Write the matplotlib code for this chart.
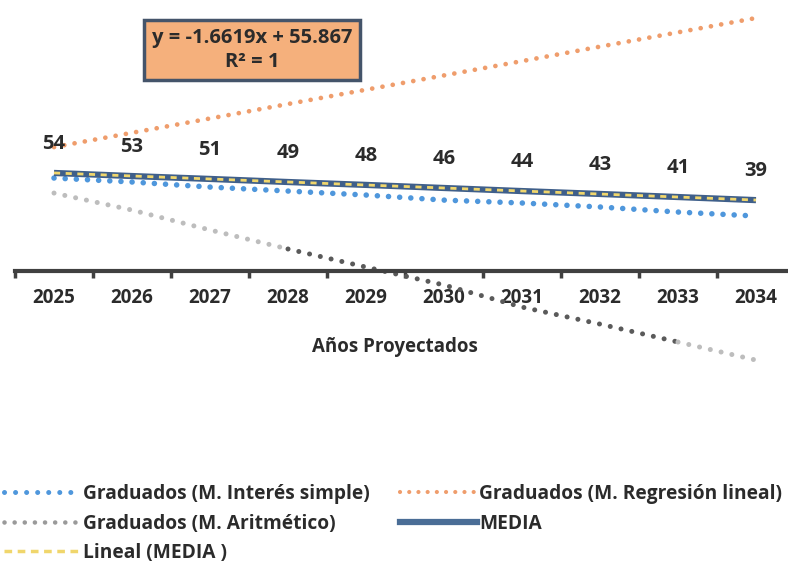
import numpy as np
import matplotlib.pyplot as plt
from matplotlib.lines import Line2D

years = ['2025', '2026', '2027', '2028', '2029', '2030', '2031', '2032', '2033', '2034']
interes_simple = [51.4, 49.2, 46.4, 44.2, 42.0, 39.2, 37.6, 35.4, 32.6, 30.4]
regresion = [68.5, 76.4, 84.3, 92.3, 100.2, 108.1, 116.0, 124.0, 131.9, 139.8]
aritmetico = [43.1, 33.7, 22.7, 12.2, 2.2, -7.7, -19.9, -29.3, -39.2, -49.2]
media = [54.2, 52.5, 50.9, 49.2, 47.6, 45.9, 44.2, 42.6, 40.9, 39.2]
media_labels = ['54', '53', '51', '49', '48', '46', '44', '43', '41', '39']

fam = ['Open Sans', 'DejaVu Sans']
plt.rcParams['font.family'] = fam
plt.rcParams['font.weight'] = 'bold'
txt = '#2b2b2b'

c_blue = '#4f97dc'
c_orange = '#ef9d6c'
c_light = '#bdbdbd'
c_dark = '#5a5a5a'
c_media = '#3f5f8a'
c_trend = '#f0d66c'

fig = plt.figure(figsize=(7.88, 5.66), dpi=100)
ax = fig.add_axes([15 / 788, 1 - 365 / 566, 780 / 788, 360 / 566])

x = np.arange(len(years))
dots = (0, (0.01, 2.2))

ax.plot(x, regresion, color=c_orange, lw=3.4, ls=dots, dash_capstyle='round', clip_on=False)
ax.plot(x, interes_simple, color=c_blue, lw=4.0, ls=(0, (0.01, 2.0)), dash_capstyle='round', clip_on=False)
# the arithmetic series mixes light and dark dots in the scan
ax.plot(x[:4], aritmetico[:4], color=c_light, lw=3.6, ls=dots, dash_capstyle='round', clip_on=False)
ax.plot(x[3:9], aritmetico[3:9], color=c_dark, lw=3.6, ls=dots, dash_capstyle='round', clip_on=False)
ax.plot(x[8:], aritmetico[8:], color=c_light, lw=3.6, ls=dots, dash_capstyle='round', clip_on=False)

ax.plot(x, media, color=c_media, lw=4.5, solid_capstyle='butt')
coef = np.polyfit(x + 1, media, 1)
trend = np.polyval(coef, x + 1)
ax.plot(x, trend, color=c_trend, lw=2.0, ls=(0, (2.2, 2.0)))

for i, lab in enumerate(media_labels):
    ax.annotate(lab, (x[i], media[i]), xytext=(0, 21), textcoords='offset points',
                ha='center', va='center', fontsize=14.5, fontweight='bold', color=txt)

ax.set_xlim(-0.5, 9.5)
ax.set_ylim(-51.9, 147)
for s in ['top', 'right', 'left']:
    ax.spines[s].set_visible(False)
ax.spines['bottom'].set_position(('data', 0))
ax.spines['bottom'].set_linewidth(3)
ax.spines['bottom'].set_color('#404040')
ax.set_yticks([])
ax.set_xticks(x)
ax.set_xticklabels(years, fontsize=13.5, fontweight='bold', color=txt)
ax.tick_params(axis='x', which='major', length=0, pad=12)
ax.set_xticks(np.arange(-0.5, 9.5, 1.0), minor=True)
ax.tick_params(axis='x', which='minor', length=5, width=2.5, color='#404040', direction='out')

fig.text(395 / 788, 1 - 347 / 566, 'Años Proyectados', ha='center', va='center',
         fontsize=13.5, fontweight='bold', color=txt)

fig.text(252 / 788, 1 - 50 / 566, 'y = -1.6619x + 55.867\nR² = 1', ha='center', va='center',
         fontsize=14.5, fontweight='bold', color=txt, linespacing=1.25,
         bbox=dict(boxstyle='square,pad=0.38', facecolor='#f5b07c', edgecolor='#44546a', linewidth=2.5))

handles = [
    Line2D([], [], color=c_blue, lw=3.6, ls=dots, dash_capstyle='round'),
    Line2D([], [], color='#9a9a9a', lw=3.3, ls=dots, dash_capstyle='round'),
    Line2D([], [], color=c_trend, lw=2.5, ls=(0, (2.2, 1.6))),
    Line2D([], [], color=c_orange, lw=3.0, ls=dots, dash_capstyle='round'),
    Line2D([], [], color='#4a6d96', lw=4.5),
]
labels = ['Graduados (M. Interés simple)', 'Graduados (M. Aritmético)', 'Lineal (MEDIA )',
          'Graduados (M. Regresión lineal)', 'MEDIA']
fig.legend(handles, labels, ncol=2, loc='upper left', bbox_to_anchor=(4 / 788, 1 - 484 / 566),
           frameon=False, handlelength=4.0, handletextpad=0.12, columnspacing=1.6,
           labelspacing=0.5, borderaxespad=0, borderpad=0,
           prop={'family': fam, 'weight': 'bold', 'size': 13.8},
           labelcolor=txt)

fig.savefig('out.png', dpi=100, facecolor='white')
